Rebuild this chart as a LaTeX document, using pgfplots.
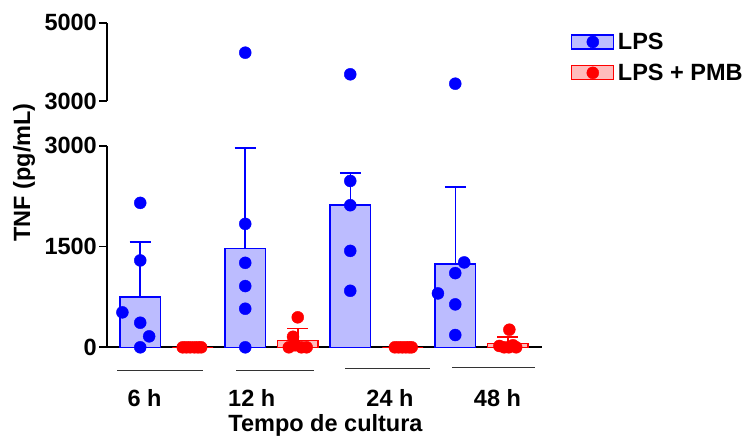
\documentclass[border=0pt]{standalone}
\usepackage{fontspec}
\setmainfont{Liberation Sans}
\usepackage{pgfplots}
\pgfplotsset{compat=1.18}
\definecolor{lpsblue}{RGB}{0,0,255}
\definecolor{lpsfill}{RGB}{188,188,255}
\definecolor{pmbred}{RGB}{255,0,0}
\definecolor{pmbfill}{RGB}{255,188,188}
\newcommand{\bigfont}{\bfseries\fontsize{23.5}{28}\selectfont}
\begin{document}
\begin{tikzpicture}
\path[use as bounding box] (0,0) rectangle (749pt,-439pt);
\pgfplotsset{
  brk/.style={
    scale only axis, width=435pt, xmin=-0.633, xmax=7.652,
    axis line style={line width=1.8pt, black},
    tick style={line width=1.8pt, black}, major tick length=8pt, tick align=outside,
    yticklabel style={font=\bigfont, inner xsep=2pt},
    /pgf/number format/assume math mode=true,
    scaled y ticks=false, clip=false, xtick=\empty,
  }
}
\begin{axis}[brk, at={(107pt,-347.3pt)}, anchor=south west, height=201.6pt,
  ymin=0, ymax=3000, ytick={0,1500,3000}, yticklabels={0,1500,3000},
  axis x line*=bottom, axis y line*=left,
  legend style={at={(1.0667,1.57)}, anchor=north west, draw=none, fill=none,
    font=\bigfont, inner sep=0pt, row sep=9pt, cells={anchor=west}, nodes={inner xsep=3.5pt}}]
% LPS bars (mean, error)
\addplot[ybar, bar width=0.78, bar shift=0pt, draw=lpsblue, fill=lpsfill, line width=1.5pt, forget plot,
  error bars/.cd, y dir=plus, y explicit,
  error bar style={line width=1.5pt, lpsblue},
  error mark options={rotate=90, mark size=10.5pt, line width=1.5pt, lpsblue}]
  coordinates {(0,752) +- (0,813) (2,1471) +- (0,1495) (4,2114) +- (0,480) (6,1242) +- (0,1145)};
% LPS + PMB bars
\addplot[ybar, bar width=0.78, bar shift=0pt, draw=pmbred, fill=pmbfill, line width=1.5pt, forget plot,
  error bars/.cd, y dir=plus, y explicit,
  error bar style={line width=1.5pt, pmbred},
  error mark options={rotate=90, mark size=10.5pt, line width=1.5pt, pmbred}]
  coordinates {(1,0) +- (0,0) (3,98) +- (0,179) (5,0) +- (0,0) (7,53) +- (0,104)};
% LPS individual values
\addplot[only marks, mark=*, mark size=6pt, lpsblue, forget plot] coordinates {
  (0,2149) (0,1293) (-0.34,520) (0,366) (0.17,163) (0,0)
  (2,1837) (2,1257) (2,911) (2,574) (2,0)
  (4,2475) (4,2114) (4,1435) (4,841)
  (6.17,1263) (6,1104) (5.67,802) (6,639) (6,183)};
% LPS + PMB individual values
\addplot[only marks, mark=*, mark size=6pt, pmbred, forget plot] coordinates {
  (0.81,0) (0.88,0) (0.95,0) (1.03,0) (1.10,0) (1.16,0)
  (3,446) (2.91,157) (2.83,0) (2.95,30) (3.07,0) (3.17,0)
  (4.85,0) (4.92,0) (4.99,0) (5.06,0) (5.12,0) (5.17,0)
  (7.03,262) (6.84,20) (6.93,0) (7.02,0) (7.10,30) (7.16,0)};
\addlegendimage{legend image code/.code={\draw[lpsblue, fill=lpsfill, line width=1.2pt] (0pt,-7pt) rectangle (42pt,7pt); \fill[lpsblue] (21pt,0pt) circle (6pt);}}
\addlegendentry{LPS}
\addlegendimage{legend image code/.code={\draw[pmbred, fill=pmbfill, line width=1.2pt] (0pt,-7pt) rectangle (42pt,7pt); \fill[pmbred] (21pt,0pt) circle (6pt);}}
\addlegendentry{LPS + PMB}
\end{axis}
\begin{axis}[brk, at={(107pt,-101pt)}, anchor=south west, height=78.3pt,
  ymin=3000, ymax=5000, ytick={3000,5000}, yticklabels={3000,5000},
  axis x line=none, axis y line*=left]
\addplot[only marks, mark=*, mark size=6pt, lpsblue] coordinates {(2,4234) (4,3682) (6,3442)};
\end{axis}
\node[font=\bigfont, rotate=90] at (24pt,-172.5pt) {TNF (pg/mL)};
\draw[line width=1.5pt, black!80] (117pt,-370.5pt) -- (203pt,-370.5pt);
\draw[line width=1.5pt, black!80] (236pt,-370.5pt) -- (314pt,-370.5pt);
\draw[line width=1.5pt, black!80] (345pt,-368.5pt) -- (430pt,-368.5pt);
\draw[line width=1.5pt, black!80] (452pt,-367.5pt) -- (535pt,-367.5pt);
\node[font=\bigfont, anchor=base] at (144.5pt,-406.7pt) {6 h};
\node[font=\bigfont, anchor=base] at (251.7pt,-406.7pt) {12 h};
\node[font=\bigfont, anchor=base] at (390pt,-406.7pt) {24 h};
\node[font=\bigfont, anchor=base] at (497.5pt,-406.7pt) {48 h};
\node[font=\bigfont, anchor=base] at (325.5pt,-431pt) {Tempo de cultura};
\end{tikzpicture}
\end{document}
